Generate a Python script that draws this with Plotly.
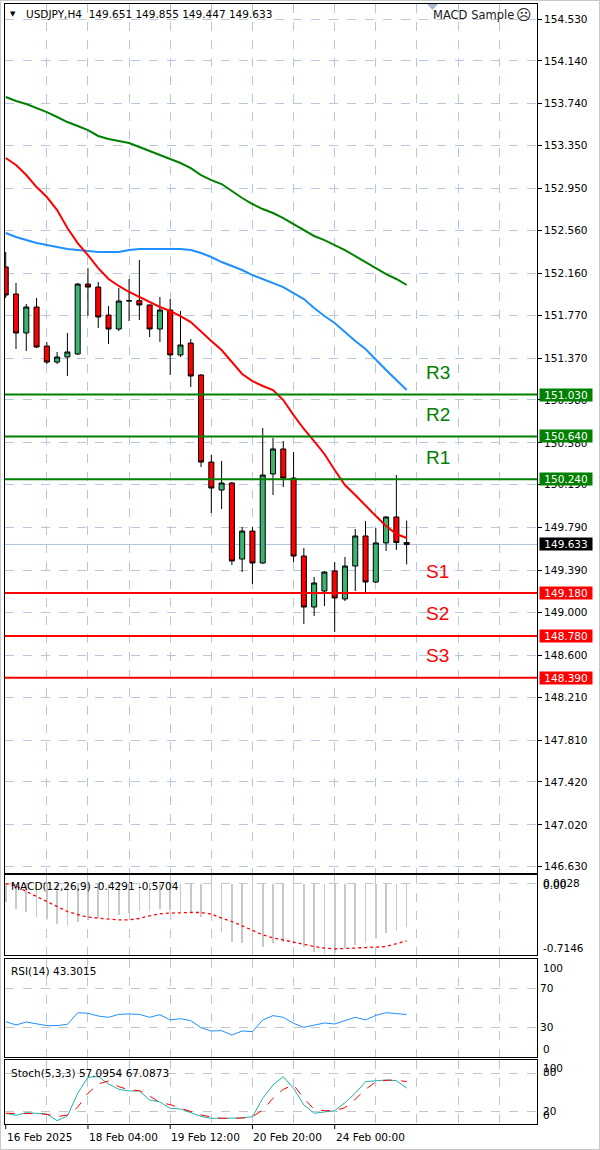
import plotly.graph_objects as go

W, H = 600, 1150

# ---------------- data ----------------
bars = list(range(40))
open_ = [152.219, 151.967, 151.604, 151.846, 151.482, 151.333, 151.380, 151.408, 152.060, 152.032,
         151.771, 151.641, 151.902, 151.905, 151.865, 151.641, 151.818, 151.399, 151.510, 151.212,
         150.401, 150.140, 150.206, 149.497, 149.758, 149.460, 150.290, 150.523, 150.252, 149.525,
         149.050, 149.199, 149.386, 149.125, 149.432, 149.712, 149.283, 149.647, 149.889, 149.651]
high = [152.359, 152.070, 151.874, 151.930, 151.520, 151.427, 151.604, 152.070, 152.209, 152.079,
        151.855, 152.023, 152.107, 152.284, 151.870, 151.939, 151.920, 151.809, 151.548, 151.220,
        150.467, 150.411, 150.215, 149.796, 149.796, 150.718, 150.625, 150.597, 150.495, 149.600,
        149.330, 149.385, 149.469, 149.516, 149.777, 149.852, 149.786, 149.898, 150.280, 149.855]
low = [151.930, 151.455, 151.436, 151.465, 151.315, 151.315, 151.203, 151.399, 151.762, 151.650,
       151.501, 151.622, 151.715, 151.725, 151.566, 151.520, 151.212, 151.380, 151.100, 150.355,
       149.926, 149.963, 149.441, 149.376, 149.264, 149.451, 150.094, 150.168, 149.469, 148.892,
       148.966, 149.059, 148.817, 149.106, 149.199, 149.190, 149.274, 149.572, 149.581, 149.447]
close = [151.958, 151.604, 151.846, 151.473, 151.333, 151.380, 151.427, 152.060, 152.032, 151.753,
         151.641, 151.902, 151.905, 151.865, 151.641, 151.818, 151.399, 151.492, 151.203, 150.401,
         150.159, 150.206, 149.479, 149.758, 149.460, 150.280, 150.523, 150.252, 149.525, 149.050,
         149.274, 149.376, 149.134, 149.432, 149.712, 149.283, 149.647, 149.889, 149.651, 149.633]

ma_red = [153.235, 153.169, 153.076, 152.964, 152.871, 152.750, 152.582, 152.442, 152.330, 152.209,
          152.107, 152.042, 151.986, 151.939, 151.893, 151.846, 151.809, 151.762, 151.706, 151.613,
          151.529, 151.445, 151.333, 151.222, 151.156, 151.110, 151.072, 150.979, 150.839, 150.709,
          150.597, 150.476, 150.327, 150.187, 150.094, 149.991, 149.898, 149.805, 149.730, 149.693]
ma_blue = [152.536, 152.498, 152.470, 152.442, 152.424, 152.405, 152.386, 152.377, 152.368, 152.359,
           152.359, 152.359, 152.377, 152.386, 152.386, 152.386, 152.386, 152.386, 152.377, 152.349,
           152.312, 152.265, 152.228, 152.191, 152.144, 152.107, 152.070, 152.032, 151.976, 151.920,
           151.837, 151.762, 151.697, 151.613, 151.529, 151.455, 151.352, 151.259, 151.165, 151.072]
ma_green = [153.803, 153.766, 153.738, 153.701, 153.663, 153.617, 153.570, 153.533, 153.495, 153.440,
            153.412, 153.393, 153.374, 153.337, 153.300, 153.262, 153.225, 153.188, 153.141, 153.076,
            153.029, 152.992, 152.927, 152.862, 152.806, 152.759, 152.722, 152.675, 152.619, 152.563,
            152.508, 152.470, 152.424, 152.377, 152.321, 152.265, 152.209, 152.153, 152.107, 152.051]

macd_hist = [-0.180, -0.253, -0.277, -0.327, -0.353, -0.400, -0.420, -0.377, -0.360, -0.343,
             -0.327, -0.310, -0.293, -0.270, -0.267, -0.253, -0.260, -0.277, -0.293, -0.327,
             -0.367, -0.477, -0.577, -0.593, -0.633, -0.627, -0.593, -0.577, -0.600, -0.633,
             -0.680, -0.700, -0.690, -0.643, -0.610, -0.593, -0.543, -0.487, -0.467, -0.4291]
macd_signal = [0.0028, -0.020, -0.077, -0.127, -0.180, -0.233, -0.277, -0.307, -0.333, -0.343,
               -0.353, -0.360, -0.360, -0.347, -0.320, -0.300, -0.293, -0.287, -0.287, -0.287,
               -0.303, -0.343, -0.377, -0.420, -0.467, -0.510, -0.540, -0.563, -0.580, -0.607,
               -0.627, -0.643, -0.650, -0.647, -0.640, -0.637, -0.633, -0.627, -0.600, -0.5704]
rsi = [36.0, 32.7, 35.7, 33.7, 32.0, 32.0, 33.3, 45.2, 44.6, 41.8,
       40.5, 43.5, 43.9, 43.5, 40.5, 43.2, 37.8, 39.1, 37.1, 29.9,
       26.5, 26.9, 22.4, 26.5, 25.9, 37.8, 42.2, 40.5, 34.4, 30.3,
       32.7, 34.7, 33.7, 37.4, 40.5, 37.8, 42.5, 45.2, 44.0, 43.3015]
stoch_main = [17.0, 13.8, 18.0, 17.5, 15.9, 5.3, 12.7, 48.7, 74.1, 75.1,
              63.5, 55.0, 52.4, 52.4, 38.1, 34.9, 24.9, 23.8, 18.0, 12.2,
              9.0, 9.0, 9.0, 9.5, 11.6, 40.7, 61.9, 75.1, 56.6, 30.2,
              17.0, 19.6, 21.2, 33.9, 48.7, 67.2, 68.8, 69.8, 68.8, 57.0954]
stoch_signal = [17.0, 17.0, 17.0, 16.4, 15.3, 11.6, 14.3, 26.5, 48.7, 63.5,
                68.3, 59.3, 54.0, 52.9, 44.4, 33.9, 30.7, 24.9, 19.6, 14.3,
                11.1, 9.0, 9.0, 9.5, 11.6, 22.2, 40.7, 55.0, 62.0, 40.7,
                23.3, 21.2, 21.2, 25.9, 39.2, 55.0, 66.7, 69.3, 69.8, 67.0873]

price_ticks = [154.530, 154.140, 153.740, 153.350, 152.950, 152.560, 152.160, 151.770, 151.370,
               150.980, 150.580, 150.190, 149.790, 149.390, 149.000, 148.600, 148.210, 147.810,
               147.420, 147.020, 146.630]
res_names = ["R3", "R2", "R1"]
res_levels = [151.030, 150.640, 150.240]
sup_names = ["S1", "S2", "S3"]
sup_levels = [149.180, 148.780, 148.390]
last_price = 149.633
grid_bars = [4, 8, 12, 16, 20, 24, 28, 32, 36, 40, 44, 48]
date_bars = [0, 8, 16, 24, 32]
date_labels = ["16 Feb 2025", "18 Feb 04:00", "19 Feb 12:00", "20 Feb 20:00", "24 Feb 00:00"]
title_text = "USDJPY,H4  149.651 149.855 149.447 149.633"
ea_text = "MACD Sample"
ea_face = "☹"
macd_label = "MACD(12,26,9) -0.4291 -0.5704"
rsi_label = "RSI(14) 43.3015"
stoch_label = "Stoch(5,3,3) 57.0954 67.0873"
macd_scale = ["0.0028", "0.00", "-0.7146"]
rsi_scale = [100, 70, 30, 0]
stoch_scale = [100, 80, 20, 0]

# ---------------- style ----------------
FONT = "DejaVu Sans"
GRID = "#b7c8de"
LVL = "#c4c4c4"
GREEN = "#008000"
RED = "#ff0000"


def py(px):
    return 1 - px / H


def pdom(top, bottom):
    return [py(bottom), py(top)]


xdom = [5 / W, 537 / W]
xrange_ = [-0.07, 51.68]

fig = go.Figure()

fig.add_trace(go.Candlestick(
    x=bars, open=open_, high=high, low=low, close=close,
    increasing=dict(fillcolor="#3cb371", line=dict(color="black", width=1)),
    decreasing=dict(fillcolor="#ff0000", line=dict(color="black", width=1)),
    whiskerwidth=0, xaxis="x", yaxis="y", hoverinfo="skip", showlegend=False))

for ys, col in [(ma_green, GREEN), (ma_blue, "#1e90ff"), (ma_red, RED)]:
    fig.add_trace(go.Scatter(x=bars, y=ys, mode="lines", line=dict(color=col, width=2),
                             xaxis="x", yaxis="y", hoverinfo="skip", showlegend=False))

fig.add_trace(go.Bar(x=bars, y=macd_hist, width=0.16, marker=dict(color="#c8c8c8", line=dict(width=0)),
                     xaxis="x2", yaxis="y2", hoverinfo="skip", showlegend=False))
fig.add_trace(go.Scatter(x=bars, y=macd_signal, mode="lines", line=dict(color=RED, width=1.3, dash="dot"),
                         xaxis="x2", yaxis="y2", hoverinfo="skip", showlegend=False))

fig.add_trace(go.Scatter(x=bars, y=rsi, mode="lines", line=dict(color="#1e90ff", width=1),
                         xaxis="x3", yaxis="y3", hoverinfo="skip", showlegend=False))

fig.add_trace(go.Scatter(x=bars, y=stoch_main, mode="lines", line=dict(color="#20b2aa", width=1),
                         xaxis="x4", yaxis="y4", hoverinfo="skip", showlegend=False))
fig.add_trace(go.Scatter(x=bars, y=stoch_signal, mode="lines", line=dict(color=RED, width=1, dash="dash"),
                         xaxis="x4", yaxis="y4", hoverinfo="skip", showlegend=False))


def xax(anchor):
    return dict(domain=xdom, range=xrange_, tickvals=grid_bars, showticklabels=False,
                showgrid=True, gridcolor=GRID, griddash="dash", gridwidth=1,
                showline=True, linecolor="black", linewidth=1, mirror=True,
                zeroline=False, ticks="", anchor=anchor, fixedrange=True,
                rangeslider=dict(visible=False))


tickfont = dict(family=FONT, size=10.5, color="black")

layout = dict(
    width=W, height=H, paper_bgcolor="white", plot_bgcolor="white",
    margin=dict(l=0, r=0, t=0, b=0, pad=0), showlegend=False, bargap=0,
    xaxis=xax("y"), xaxis2=xax("y2"), xaxis3=xax("y3"), xaxis4=xax("y4"),
    yaxis=dict(domain=pdom(4, 873), range=[146.571, 154.670], side="right", anchor="x",
               tickvals=price_ticks, ticktext=["%.3f" % v for v in price_ticks],
               tickfont=tickfont, ticks="outside", ticklen=4, tickcolor="black",
               showgrid=True, gridcolor=GRID, griddash="dash", zeroline=False,
               showline=True, linecolor="black", mirror=True, fixedrange=True),
    yaxis2=dict(domain=pdom(875, 955), range=[-0.712, 0.088], side="right", anchor="x2",
                tickvals=[0], showticklabels=False, ticks="",
                showgrid=True, gridcolor=LVL, griddash="dash", zeroline=False,
                showline=True, linecolor="black", mirror=True, fixedrange=True),
    yaxis3=dict(domain=pdom(959, 1057), range=[0, 100], side="right", anchor="x3",
                tickvals=[70, 30], ticktext=["70", "30"], tickfont=tickfont, ticks="",
                showgrid=True, gridcolor=LVL, griddash="dash", zeroline=False,
                showline=True, linecolor="black", mirror=True, fixedrange=True),
    yaxis4=dict(domain=pdom(1060, 1124), range=[0, 101.5], side="right", anchor="x4",
                tickvals=[80, 20], showticklabels=False, ticks="",
                showgrid=True, gridcolor=LVL, griddash="dash", zeroline=False,
                showline=True, linecolor="black", mirror=True, fixedrange=True),
)
fig.update_layout(**layout)

shapes = []
annotations = []

# current price line
shapes.append(dict(type="line", xref="x domain", yref="y", x0=0, x1=1, y0=last_price, y1=last_price,
                   line=dict(color="#b0c4de", width=1), layer="below"))

# support / resistance
for names, levels, col in [(res_names, res_levels, GREEN), (sup_names, sup_levels, RED)]:
    for nm, lv in zip(names, levels):
        shapes.append(dict(type="line", xref="x domain", yref="y", x0=0, x1=1, y0=lv, y1=lv,
                           line=dict(color=col, width=2), layer="above"))
        annotations.append(dict(text=nm, xref="x domain", yref="y", x=(424 - 5) / 532, y=lv,
                                xanchor="left", yanchor="middle", yshift=22, showarrow=False,
                                font=dict(family="Liberation Sans", size=19, color=col)))
        annotations.append(dict(text="%.3f" % lv, xref="paper", yref="y", x=539 / W, y=lv,
                                xanchor="left", yanchor="middle", showarrow=False, width=52, height=12,
                                bgcolor=col, borderpad=0, align="center",
                                font=dict(family=FONT, size=10.5, color="white")))

annotations.append(dict(text="%.3f" % last_price, xref="paper", yref="y", x=539 / W, y=last_price,
                        xanchor="left", yanchor="middle", showarrow=False, width=52, height=12,
                        bgcolor="black", borderpad=0, align="center",
                        font=dict(family=FONT, size=10.5, color="white")))

# header texts
annotations.append(dict(text="▼", xref="paper", yref="paper", x=13 / W, y=py(14), xanchor="center",
                        yanchor="middle", showarrow=False, font=dict(family=FONT, size=7, color="black")))
annotations.append(dict(text=title_text, xref="paper", yref="paper", x=24 / W, y=py(14), xanchor="left",
                        yanchor="middle", showarrow=False, font=dict(family=FONT, size=10.5, color="black")))
annotations.append(dict(text=ea_text, xref="paper", yref="paper", x=516 / W, y=py(15),
                        xanchor="right", yanchor="middle", showarrow=False,
                        font=dict(family=FONT, size=11.5, color="#202020")))
annotations.append(dict(text=ea_face, xref="paper", yref="paper", x=524 / W, y=py(15),
                        xanchor="center", yanchor="middle", showarrow=False,
                        font=dict(family=FONT, size=15, color="#202020")))
shapes.append(dict(type="path", xref="paper", yref="paper",
                   path="M %f,%f L %f,%f L %f,%f Z" % (427 / W, py(4), 438 / W, py(4), 432.5 / W, py(10)),
                   fillcolor="#a8b8cc", line=dict(width=0)))

# indicator window titles
for txt, ypx in [(macd_label, 886), (rsi_label, 971), (stoch_label, 1073)]:
    annotations.append(dict(text=txt, xref="paper", yref="paper", x=9 / W, y=py(ypx), xanchor="left",
                            yanchor="middle", showarrow=False,
                            font=dict(family=FONT, size=10.5, color="black")))

# indicator scale labels
lab = dict(xref="paper", yref="paper", x=541 / W, xanchor="left", yanchor="middle", showarrow=False,
           font=dict(family=FONT, size=10.5, color="black"))
for txt, ypx in zip(macd_scale, [883, 885, 948]):
    annotations.append(dict(lab, text=txt, y=py(ypx)))
for v, ypx in zip([rsi_scale[0], rsi_scale[3]], [968, 1049]):
    annotations.append(dict(lab, text=str(v), y=py(ypx)))
for v, ypx in zip(stoch_scale, [1068, 1072, 1111, 1115]):
    annotations.append(dict(lab, text=str(v), y=py(ypx)))

# date labels with ticks
for b, t in zip(date_bars, date_labels):
    shapes.append(dict(type="line", xref="x4", yref="paper", x0=b, x1=b, y0=py(1124), y1=py(1129),
                       line=dict(color="black", width=1)))
    annotations.append(dict(text=t, xref="x4", yref="paper", x=b, y=py(1137), xanchor="left",
                            xshift=-1, yanchor="middle", showarrow=False,
                            font=dict(family=FONT, size=10.5, color="black")))

# outer frame
shapes.append(dict(type="rect", xref="paper", yref="paper", x0=0, x1=1, y0=0, y1=1,
                   line=dict(color="#c8c8c8", width=2), layer="below"))

fig.update_layout(shapes=shapes, annotations=annotations)
fig.write_html("out.html", config={"displayModeBar": False, "staticPlot": True},
               post_script="document.body.style.margin='0';document.body.style.overflow='hidden';")
